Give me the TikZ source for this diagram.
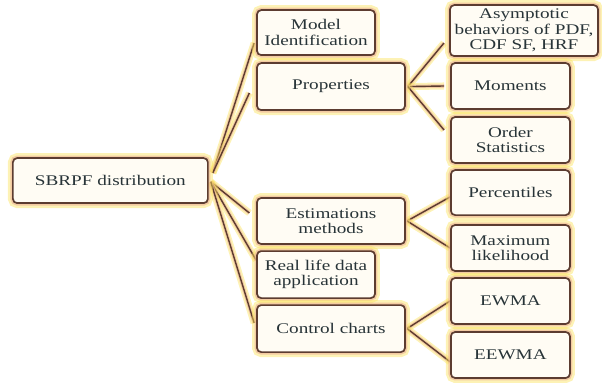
\documentclass[tikz,border=0pt]{standalone}
\usepackage{fontspec}
\setmainfont{Liberation Serif}[FakeStretch=1.3]
\usepackage{tikz}
\usetikzlibrary{backgrounds}
\definecolor{cus-brown}{RGB}{92, 60, 48}
\definecolor{cus-glow}{RGB}{250, 226, 90}
\definecolor{cus-halo}{RGB}{236, 176, 150}
\definecolor{cus-fill}{RGB}{255, 252, 244}
\definecolor{cus-text}{RGB}{40, 52, 56}
\tikzset{
  box/.style={draw=cus-brown, line width=1.2pt, rounded corners=3pt, fill=cus-fill,
    align=center, inner sep=0pt, text=cus-text, font=\fontsize{10.5}{11}\selectfont,
    preaction={draw=cus-glow, line width=7pt, opacity=0.45},
    preaction={draw=cus-halo, line width=3.5pt, opacity=0.6}},
  link/.style={draw=cus-brown, line width=1pt,
    preaction={draw=cus-glow, line width=5pt, opacity=0.45},
    preaction={draw=cus-halo, line width=2.5pt, opacity=0.6}}
}

\begin{document}
\begin{tikzpicture}
\useasboundingbox (0,0) rectangle (15.05,9.625);

\node [box, minimum width=4.875cm, minimum height=1.125cm] (root) at (2.76,5.11) {SBRPF distribution};

\node [box, minimum width=2.95cm, minimum height=1.125cm] (mi) at (7.90,8.81) {Model\\Identification};
\node [box, minimum width=3.7cm, minimum height=1.175cm] (prop) at (8.275,7.46) {Properties};
\node [box, minimum width=3.7cm, minimum height=1.15cm] (est) at (8.275,4.10) {Estimations\\methods};
\node [box, minimum width=2.95cm, minimum height=1.175cm] (real) at (7.90,2.76) {Real life data\\application};
\node [box, minimum width=3.7cm, minimum height=1.175cm] (ctrl) at (8.275,1.41) {Control charts};

\node [box, minimum width=3.7cm, minimum height=1.275cm] (asy) at (13.10,8.86) {Asymptotic\\behaviors of PDF,\\CDF SF, HRF};
\node [box, minimum width=2.975cm, minimum height=1.15cm] (mom) at (12.76,7.475) {Moments};
\node [box, minimum width=2.975cm, minimum height=1.15cm] (ord) at (12.76,6.125) {Order\\Statistics};
\node [box, minimum width=2.975cm, minimum height=1.125cm] (perc) at (12.76,4.81) {Percentiles};
\node [box, minimum width=2.975cm, minimum height=1.15cm] (ml) at (12.76,3.425) {Maximum\\likelihood};
\node [box, minimum width=2.975cm, minimum height=1.15cm] (ewma) at (12.76,2.10) {EWMA};
\node [box, minimum width=2.975cm, minimum height=1.15cm] (eewma) at (12.76,0.75) {EEWMA};

% links behind the boxes
\begin{scope}[on background layer]
\draw [link] ([shift={(0.1,0.19)}]root.east) -- ([shift={(-0.05,-0.26)}]mi.west);
\draw [link] ([shift={(0.1,0.19)}]root.east) -- ([shift={(-0.17,-0.16)}]prop.west);
\draw [link] ([shift={(0.05,-0.03)}]root.east) -- ([shift={(-0.17,0.2)}]est.west);
\draw [link] ([shift={(0.05,-0.03)}]root.east) -- ([shift={(0,0.36)}]real.west);
\draw [link] ([shift={(0.05,-0.03)}]root.east) -- ([shift={(-0.05,0.14)}]ctrl.west);
\draw [link] ([xshift=0.05cm]prop.east) -- ([shift={(-0.13,-0.31)}]asy.west);
\draw [link] ([xshift=0.05cm]prop.east) -- ([xshift=-0.15cm]mom.west);
\draw [link] ([xshift=0.05cm]prop.east) -- ([shift={(-0.15,0.25)}]ord.west);
\draw [link] ([xshift=0.03cm]est.east) -- ([yshift=-0.11cm]perc.west);
\draw [link] ([xshift=0.03cm]est.east) -- (ml.west);
\draw [link] ([xshift=0.03cm]ctrl.east) -- (ewma.west);
\draw [link] ([xshift=0.03cm]ctrl.east) -- ([yshift=-0.17cm]eewma.west);
\end{scope}
\end{tikzpicture}
\end{document}
